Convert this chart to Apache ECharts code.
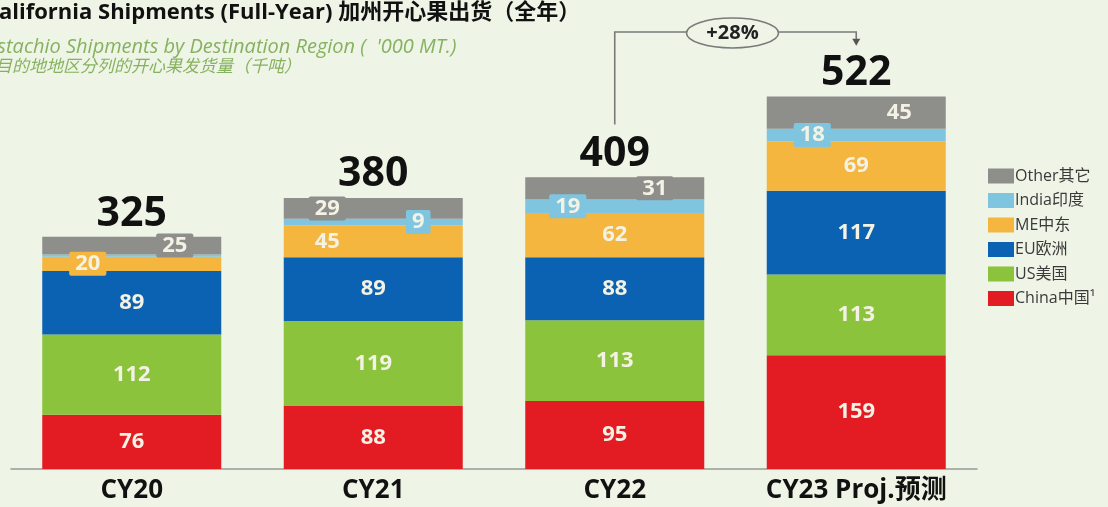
<!DOCTYPE html>
<html><head><meta charset="utf-8">
<script src="https://cdn.jsdelivr.net/npm/echarts@6/dist/echarts.min.js"></script>
<style>html,body{margin:0;padding:0;background:#eef4e6;}#c{width:1108px;height:507px;}</style>
</head><body><div id="c"></div>
<script>
const categories = ['CY20', 'CY21', 'CY22', 'CY23 Proj.预测'];
const china = [76, 88, 95, 159];
const us = [112, 119, 113, 113];
const eu = [89, 89, 88, 117];
const me = [20, 45, 62, 69];
const india = [3, 9, 19, 18];
const other = [25, 29, 31, 45];
const totals = [325, 380, 409, 522];
const growthLabel = '+28%';

const FONT = '"Open Sans","Noto Sans CJK SC",sans-serif';
const colors = {
  China: '#e31b22', US: '#8bc33c', EU: '#0b62b2', ME: '#f4b63e', India: '#7fc5e0', Other: '#8e8e8b'
};
// label horizontal offsets (styling, per bar)
const offsets = {
  ME: [[-44, 0], [-46, 0], [0, 0], [0, 0]],
  India: [null, [45, 0], [-47, 0], [-44, 0]],
  Other: [[43, 0], [-46, 0], [40, 0], [43, 0]]
};

function mkSeries(name, legendName, values) {
  const col = colors[name];
  return {
    name: legendName, type: 'bar', stack: 'total', barWidth: 179,
    itemStyle: { color: col },
    emphasis: { disabled: true },
    data: values.map((v, i) => {
      const off = offsets[name] ? offsets[name][i] : [0, 0];
      return {
        value: v,
        label: off === null ? { show: false } : {
          show: true, position: 'inside', offset: off,
          color: '#f4f2e4', fontSize: 22, fontWeight: 'bold', fontFamily: FONT,
          backgroundColor: col, padding: [1, 6], borderRadius: 2
        }
      };
    })
  };
}

const chart = echarts.init(document.getElementById('c'));
const option = {
  backgroundColor: '#eef4e6',
  animation: false,
  grid: { left: 11, right: 131, top: 40, bottom: 38 },
  xAxis: {
    type: 'category', data: categories,
    axisLine: { lineStyle: { color: '#999', width: 1.5 } },
    axisTick: { show: false },
    axisLabel: { color: '#111', fontSize: 26, fontWeight: 'bold', fontFamily: FONT, margin: 9 }
  },
  yAxis: { type: 'value', min: 0, max: 600, show: false, splitLine: { show: false } },
  legend: {
    orient: 'vertical', left: 983, top: 163, itemWidth: 26, itemHeight: 15, itemGap: 8.5,
    icon: 'rect',
    data: ['Other其它', 'India印度', 'ME中东', 'EU欧洲', 'US美国', 'China中国¹'],
    textStyle: { color: '#3a3a3a', fontSize: 16, fontFamily: FONT, padding: [0, 0, 0, -4] },
    selectedMode: false
  },
  series: [
    mkSeries('China', 'China中国¹', china),
    mkSeries('US', 'US美国', us),
    mkSeries('EU', 'EU欧洲', eu),
    mkSeries('ME', 'ME中东', me),
    mkSeries('India', 'India印度', india),
    mkSeries('Other', 'Other其它', other),
    {
      name: 'Total', type: 'bar', barWidth: 179, barGap: '-100%', z: 1,
      itemStyle: { color: 'rgba(0,0,0,0)' }, silent: true,
      label: { show: true, position: 'top', distance: 2, color: '#111', fontSize: 41, fontWeight: 'bold', fontFamily: FONT },
      data: totals
    }
  ],
  graphic: [
    { type: 'text', left: -15, top: 2, style: { text: 'California Shipments (Full-Year) 加州开心果出货（全年）', font: 'bold 22px ' + FONT, fill: '#111' } },
    { type: 'text', left: -19, top: 37, style: { text: 'Pistachio Shipments by Destination Region (  \'000 MT.)', font: 'italic 20px ' + FONT, fill: '#86b25f' } },
    { type: 'text', left: -22, top: 57, style: { text: '按目的地地区分列的开心果发货量（千吨）', font: 'italic 17px "Noto Sans CJK SC",sans-serif', fill: '#86b25f' } }
  ]
};
chart.setOption(option);

// growth annotation from CY22 total to CY23 total, positioned via the axes
const p22 = chart.convertToPixel({ seriesIndex: 6 }, [2, totals[2]]);
const p23 = chart.convertToPixel({ seriesIndex: 6 }, [3, totals[3]]);
const topY = 32;
const startY = p22[1] - 52;
const endY = p23[1] - 56;
const midX = (p22[0] + p23[0]) / 2 - 3;
const lineStyle = { stroke: '#7a7a7a', lineWidth: 1.6, fill: null };
chart.setOption({
  graphic: option.graphic.concat([
    { type: 'polyline', shape: { points: [[p22[0], startY], [p22[0], topY], [p23[0], topY], [p23[0], endY]] }, style: lineStyle },
    { type: 'polygon', shape: { points: [[p23[0] - 4, endY - 1], [p23[0] + 4, endY - 1], [p23[0], endY + 6]] }, style: { fill: '#555' } },
    { type: 'ellipse', shape: { cx: midX, cy: topY + 1, rx: 46, ry: 15 }, style: { fill: '#eef4e6', stroke: '#7a7a7a', lineWidth: 1.6 } },
    { type: 'text', x: midX, y: topY + 1, style: { text: growthLabel, font: 'bold 20px ' + FONT, fill: '#222', align: 'center', verticalAlign: 'middle' } }
  ])
});
</script></body></html>
